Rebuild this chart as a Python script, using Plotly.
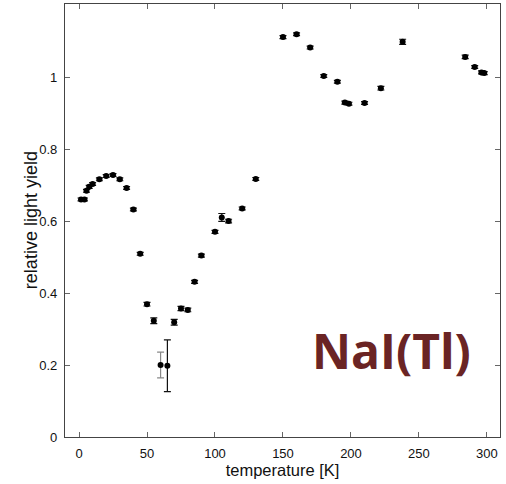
import plotly.graph_objects as go

temperature = [1.5, 4, 5.5, 7.5, 10, 15, 20, 25, 30, 35, 40, 45, 50, 55, 60, 65, 70, 75, 80, 85,
               90, 100, 105, 110, 120, 130, 150, 160, 170, 180, 190, 195.5, 198.5, 210, 222, 238,
               284, 291, 296, 298]
light_yield = [0.660, 0.660, 0.684, 0.695, 0.703, 0.716, 0.725, 0.728, 0.716, 0.692, 0.632, 0.509,
               0.369, 0.323, 0.200, 0.198, 0.319, 0.357, 0.353, 0.431, 0.504, 0.570, 0.610, 0.600,
               0.635, 0.717, 1.111, 1.119, 1.082, 1.003, 0.987, 0.929, 0.926, 0.928, 0.969, 1.098,
               1.056, 1.028, 1.013, 1.011]
yield_err = [0.004, 0.004, 0.004, 0.004, 0.004, 0.004, 0.004, 0.004, 0.004, 0.004, 0.004, 0.004,
             0.005, 0.008, 0.036, 0.072, 0.008, 0.006, 0.005, 0.004, 0.004, 0.004, 0.011, 0.005,
             0.004, 0.004, 0.004, 0.004, 0.004, 0.004, 0.004, 0.004, 0.004, 0.004, 0.005, 0.007,
             0.005, 0.004, 0.004, 0.004]
grey_err_points = [60]

x_ticks = [0, 50, 100, 150, 200, 250, 300]
y_ticks = [0, 0.2, 0.4, 0.6, 0.8, 1]
y_tick_labels = ["0", "0.2", "0.4", "0.6", "0.8", "1"]

fig = go.Figure()

main_idx = [i for i, t in enumerate(temperature) if t not in grey_err_points]
grey_idx = [i for i, t in enumerate(temperature) if t in grey_err_points]

for idx, ecol in ((grey_idx, "#888888"), (main_idx, "#111111")):
    fig.add_trace(go.Scatter(
        x=[temperature[i] for i in idx],
        y=[light_yield[i] for i in idx],
        mode="markers",
        marker=dict(color="black", size=6),
        error_y=dict(type="data", array=[yield_err[i] for i in idx], visible=True,
                     color=ecol, thickness=1.2, width=3.5),
        showlegend=False,
    ))

font_family = "Liberation Sans, Arial, sans-serif"
axis_common = dict(
    showline=True, linecolor="#444444", linewidth=1.2, mirror="ticks",
    ticks="inside", ticklen=5, tickcolor="#666666", tickwidth=1,
    showgrid=False, zeroline=False, automargin=False,
    tickfont=dict(family=font_family, size=13, color="#111111"),
)

fig.update_xaxes(range=[-10.3, 309.6], tickvals=x_ticks, ticklabelstandoff=4,
                 title=dict(text="temperature [K]", standoff=4,
                            font=dict(family=font_family, size=16.5, color="#111111")),
                 **axis_common)
fig.update_yaxes(range=[0, 1.203], tickvals=y_ticks, ticktext=y_tick_labels, ticklabelstandoff=4,
                 **axis_common)

fig.add_annotation(text="relative light yield", x=-0.079, y=0.5, xref="paper", yref="paper",
                   xanchor="center", yanchor="middle", textangle=-90, showarrow=False,
                   font=dict(family=font_family, size=18, color="#111111"))

fig.add_annotation(text="<b>NaI(Tl)</b>", x=0.938, y=0.2, xref="paper", yref="paper",
                   xanchor="right", yanchor="middle", showarrow=False,
                   font=dict(family="Open Sans, sans-serif", size=48, color="#6a2424"))

fig.update_layout(
    width=506, height=484,
    margin=dict(l=65, r=6, t=4, b=47),
    paper_bgcolor="white", plot_bgcolor="white",
)

fig.write_html("out.html", config={"displayModeBar": False},
               post_script="document.body.style.margin='0px';")
